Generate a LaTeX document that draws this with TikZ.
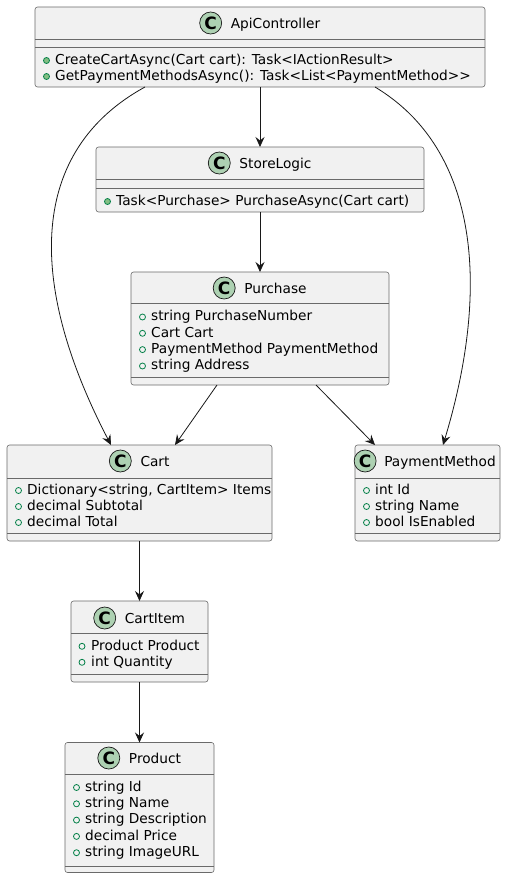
\documentclass[tikz,border=0pt]{standalone}
\usepackage{fontspec}
\setmainfont{DejaVu Sans}
\usetikzlibrary{arrows.meta}
\definecolor{bordc}{HTML}{181818}
\definecolor{boxline}{HTML}{6A6A6A}
\definecolor{boxc}{HTML}{F1F1F1}
\definecolor{cgreen}{HTML}{ADD1B2}
\definecolor{vgreen}{HTML}{038048}
\definecolor{mgreen}{HTML}{84BE84}
\tikzset{
 cls/.style={draw=boxline, fill=boxc, line width=0.6pt, rounded corners=2.5pt, inner sep=0pt, outer sep=0pt},
 sepl/.style={draw=boxline, line width=0.6pt},
 mem/.style={anchor=west, inner sep=0pt, text height=10pt, text depth=0pt, font=\fontsize{13.7}{16}\selectfont},
 ttl/.style={anchor=center, inner sep=0pt, text height=10pt, text depth=0pt, font=\fontsize{13.7}{16}\selectfont},
 cicon/.style={circle, draw=bordc, fill=cgreen, minimum size=22pt, inner sep=0pt, line width=0.7pt, font=\fontsize{17}{17}\selectfont\bfseries},
 fld/.style={circle, draw=vgreen, line width=0.8pt, minimum size=6pt, inner sep=0pt},
 mth/.style={fld, fill=mgreen},
 rel/.style={draw=bordc, line width=0.8pt, -{Stealth[length=10pt,width=9pt,inset=3.5pt]}}
}
\begin{document}
\begin{tikzpicture}[x=1pt,y=-1pt]
\useasboundingbox (0,0) rectangle (506,878);
% ApiController
\node[cls, minimum width=450pt, minimum height=80pt] (api) at (260,47) {};
\node[ttl] (apiT) at (275.5,23) {ApiController};
\node[cicon] (apiC) at ([xshift=-20pt]apiT.west) {C};
\draw[sepl] (api.west |- 0,39) -- (api.east |- 0,39);
\draw[sepl] (api.west |- 0,47) -- (api.east |- 0,47);
\node[mth] (api1i) at (46.5,60.5) {};
\node[mem] (api1) at (55,59.3) {CreateCartAsync(Cart cart): Task<IActionResult>};
\node[mth] (api2i) at (46.5,76.5) {};
\node[mem] (api2) at (55,75.3) {GetPaymentMethodsAsync(): Task<List<PaymentMethod>{}>};
% StoreLogic
\node[cls, minimum width=328pt, minimum height=65pt] (store) at (260,179.5) {};
\node[ttl] (storeT) at (275.5,163) {StoreLogic};
\node[cicon] (storeC) at ([xshift=-20pt]storeT.west) {C};
\draw[sepl] (store.west |- 0,179) -- (store.east |- 0,179);
\draw[sepl] (store.west |- 0,188) -- (store.east |- 0,188);
\node[mth] (store1i) at (107.5,201.5) {};
\node[mem] (store1) at (116,200.3) {Task<Purchase> PurchaseAsync(Cart cart)};
% Purchase
\node[cls, minimum width=258pt, minimum height=113pt] (purchase) at (260,328.5) {};
\node[ttl] (purchaseT) at (275.5,288) {Purchase};
\node[cicon] (purchaseC) at ([xshift=-20pt]purchaseT.west) {C};
\draw[sepl] (purchase.west |- 0,303) -- (purchase.east |- 0,303);
\draw[sepl] (purchase.west |- 0,377) -- (purchase.east |- 0,377);
\node[fld] (pu1i) at (142.5,317) {};
\node[mem] (pu1) at (151,315.7) {string PurchaseNumber};
\node[fld] (pu2i) at (142.5,333.3) {};
\node[mem] (pu2) at (151,332) {Cart Cart};
\node[fld] (pu3i) at (142.5,349.6) {};
\node[mem] (pu3) at (151,348.3) {PaymentMethod PaymentMethod};
\node[fld] (pu4i) at (142.5,366) {};
\node[mem] (pu4) at (151,364.7) {string Address};
% Cart
\node[cls, minimum width=265pt, minimum height=96pt] (cart) at (139.5,493) {};
\node[ttl] (cartT) at (155,461) {Cart};
\node[cicon] (cartC) at ([xshift=-20pt]cartT.west) {C};
\draw[sepl] (cart.west |- 0,478) -- (cart.east |- 0,478);
\draw[sepl] (cart.west |- 0,533) -- (cart.east |- 0,533);
\node[fld] (ca1i) at (18.5,490.5) {};
\node[mem] (ca1) at (27,489.3) {Dictionary<string, CartItem> Items};
\node[fld] (ca2i) at (18.5,506.5) {};
\node[mem] (ca2) at (27,505.3) {decimal Subtotal};
\node[fld] (ca3i) at (18.5,522.5) {};
\node[mem] (ca3) at (27,521.3) {decimal Total};
% PaymentMethod
\node[cls, minimum width=145pt, minimum height=96pt] (pm) at (427.5,493) {};
\node[ttl] (pmT) at (440,461) {PaymentMethod};
\node[cicon] (pmC) at ([xshift=-19pt]pmT.west) {C};
\draw[sepl] (pm.west |- 0,478) -- (pm.east |- 0,478);
\draw[sepl] (pm.west |- 0,533) -- (pm.east |- 0,533);
\node[fld] (pm1i) at (366.5,490.5) {};
\node[mem] (pm1) at (375,489.3) {int Id};
\node[fld] (pm2i) at (366.5,506.5) {};
\node[mem] (pm2) at (375,505.3) {string Name};
\node[fld] (pm3i) at (366.5,522.5) {};
\node[mem] (pm3) at (375,521.3) {bool IsEnabled};
% CartItem
\node[cls, minimum width=137pt, minimum height=81pt] (cartitem) at (139.5,641.5) {};
\node[ttl] (ciT) at (155,618) {CartItem};
\node[cicon] (ciC) at ([xshift=-20pt]ciT.west) {C};
\draw[sepl] (cartitem.west |- 0,633) -- (cartitem.east |- 0,633);
\draw[sepl] (cartitem.west |- 0,674) -- (cartitem.east |- 0,674);
\node[fld] (ci1i) at (82,646.3) {};
\node[mem] (ci1) at (91,645) {Product Product};
\node[fld] (ci2i) at (82,662.3) {};
\node[mem] (ci2) at (91,661.3) {int Quantity};
% Product
\node[cls, minimum width=149pt, minimum height=130pt] (product) at (139.5,807.5) {};
\node[ttl] (prT) at (155,758) {Product};
\node[cicon] (prC) at ([xshift=-20pt]prT.west) {C};
\draw[sepl] (product.west |- 0,774) -- (product.east |- 0,774);
\draw[sepl] (product.west |- 0,866) -- (product.east |- 0,866);
\node[fld] (pr1i) at (76.5,787.5) {};
\node[mem] (pr1) at (85,786.3) {string Id};
\node[fld] (pr2i) at (76.5,803.8) {};
\node[mem] (pr2) at (85,802.6) {string Name};
\node[fld] (pr3i) at (76.5,820.1) {};
\node[mem] (pr3) at (85,818.9) {string Description};
\node[fld] (pr4i) at (76.5,836.4) {};
\node[mem] (pr4) at (85,835.2) {decimal Price};
\node[fld] (pr5i) at (76.5,852.7) {};
\node[mem] (pr5) at (85,851.5) {string ImageURL};
% relations
\draw[rel] (api.south) -- (store.north);
\draw[rel] ([xshift=110pt]api.south west) .. controls (30,150) and (25,280) .. ([xshift=104pt]cart.north west);
\draw[rel] ([xshift=340pt]api.south west) .. controls (480,150) and (490,290) .. ([xshift=88pt]pm.north west);
\draw[rel] (store.south) -- (purchase.north);
\draw[rel] ([xshift=86pt]purchase.south west) -- ([xshift=168pt]cart.north west);
\draw[rel] ([xshift=185pt]purchase.south west) -- ([xshift=20pt]pm.north west);
\draw[rel] (cart.south) -- (cartitem.north);
\draw[rel] (cartitem.south) -- (product.north);
\end{tikzpicture}
\end{document}
